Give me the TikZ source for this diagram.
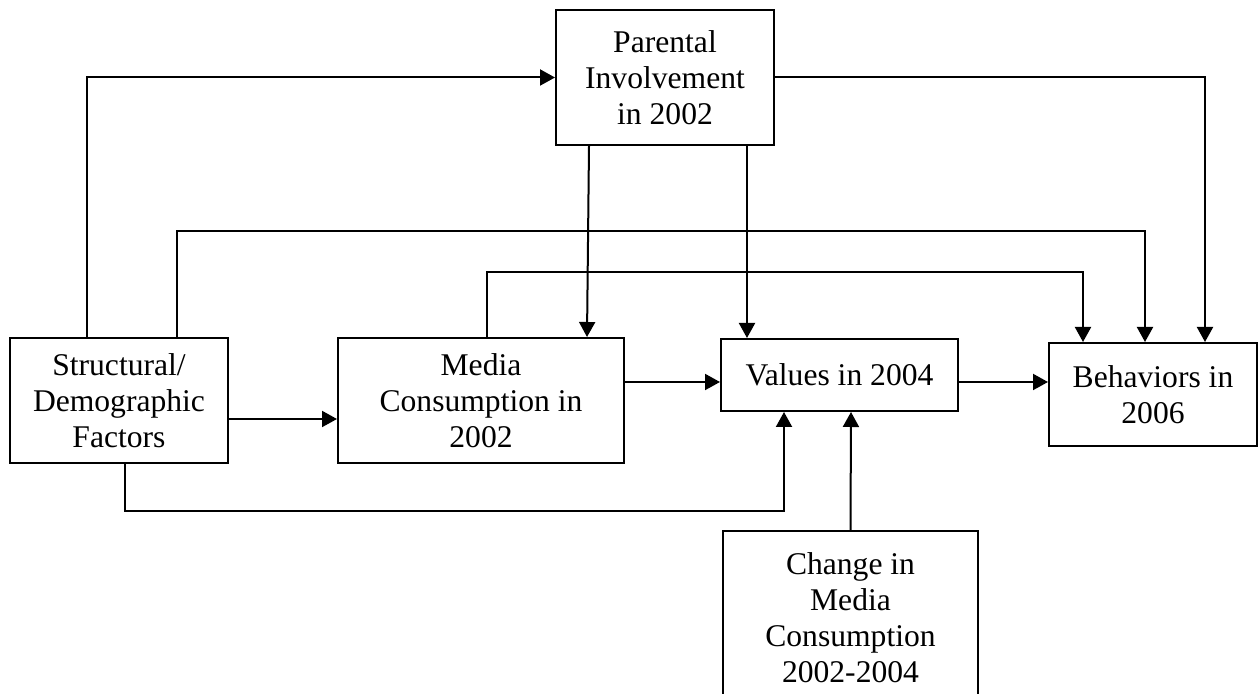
\documentclass[tikz,border=0pt]{standalone}
\usepackage{fontspec}
\setmainfont{Liberation Serif}
\usetikzlibrary{arrows.meta}
\tikzstyle{box}=[draw,line width=1pt,align=center,inner sep=0pt,font=\fontsize{15.8}{18}\selectfont]
\tikzstyle{link}=[draw,line width=1pt,-{Triangle[length=7.5pt,width=8pt]}]

\begin{document}
\begin{tikzpicture}[x=0.5pt,y=-0.5pt]
	\clip (0,0) rectangle (1259,694);
	% First we draw the boxes
	\node[box,minimum width=109pt,minimum height=67.5pt] (parent) at (665,77.5) {Parental\\Involvement\\in 2002};
	\node[box,minimum width=109pt,minimum height=62.5pt] (struct) at (119,400.5) {Structural/\\Demographic\\Factors};
	\node[box,minimum width=143pt,minimum height=62.5pt] (media) at (481,400.5) {Media\\Consumption in\\2002};
	\node[box,minimum width=118.5pt,minimum height=36pt] (values) at (839.5,375) {Values in 2004};
	\node[box,minimum width=104pt,minimum height=51.5pt] (behav) at (1153,394.5) {Behaviors in\\2006};
	\node[box,minimum width=127.5pt,minimum height=87pt] (change) at (850.5,618) {Change in\\Media\\Consumption\\2002-2004};

	% Arrows going round over the top
	\path[link] ([xshift=-16pt]struct.north) |- (parent.west);
	\path[link] (parent.east) -| ([xshift=26pt]behav.north);
	\path[link] ([xshift=29pt]struct.north) -- ++(0,53pt) -| ([xshift=-4pt]behav.north);
	\path[link] ([xshift=3pt]media.north) -- ++(0,32.5pt) -| ([xshift=-35pt]behav.north);

	% Arrows down from parental involvement
	\path[link] ([xshift=-38pt]parent.south) -- ([xshift=53pt]media.north);
	\path[link] ([xshift=41pt]parent.south) -- ([xshift=-46.25pt]values.north);

	% Arrows along the middle row
	\path[link] ([yshift=-9.25pt]struct.east) -- ([yshift=-9.25pt]media.west);
	\path[link] ([yshift=9.25pt]media.east) -- ([yshift=-3.5pt]values.west);
	\path[link] ([yshift=-3.5pt]values.east) -- ([yshift=6.25pt]behav.west);

	% Arrows up into values
	\path[link] ([xshift=3pt]struct.south) -- ++(0,-23.5pt) -| ([xshift=-27.75pt]values.south);
	\path[link] (change.north) -- ([xshift=5.75pt]values.south);
\end{tikzpicture}
\end{document}
